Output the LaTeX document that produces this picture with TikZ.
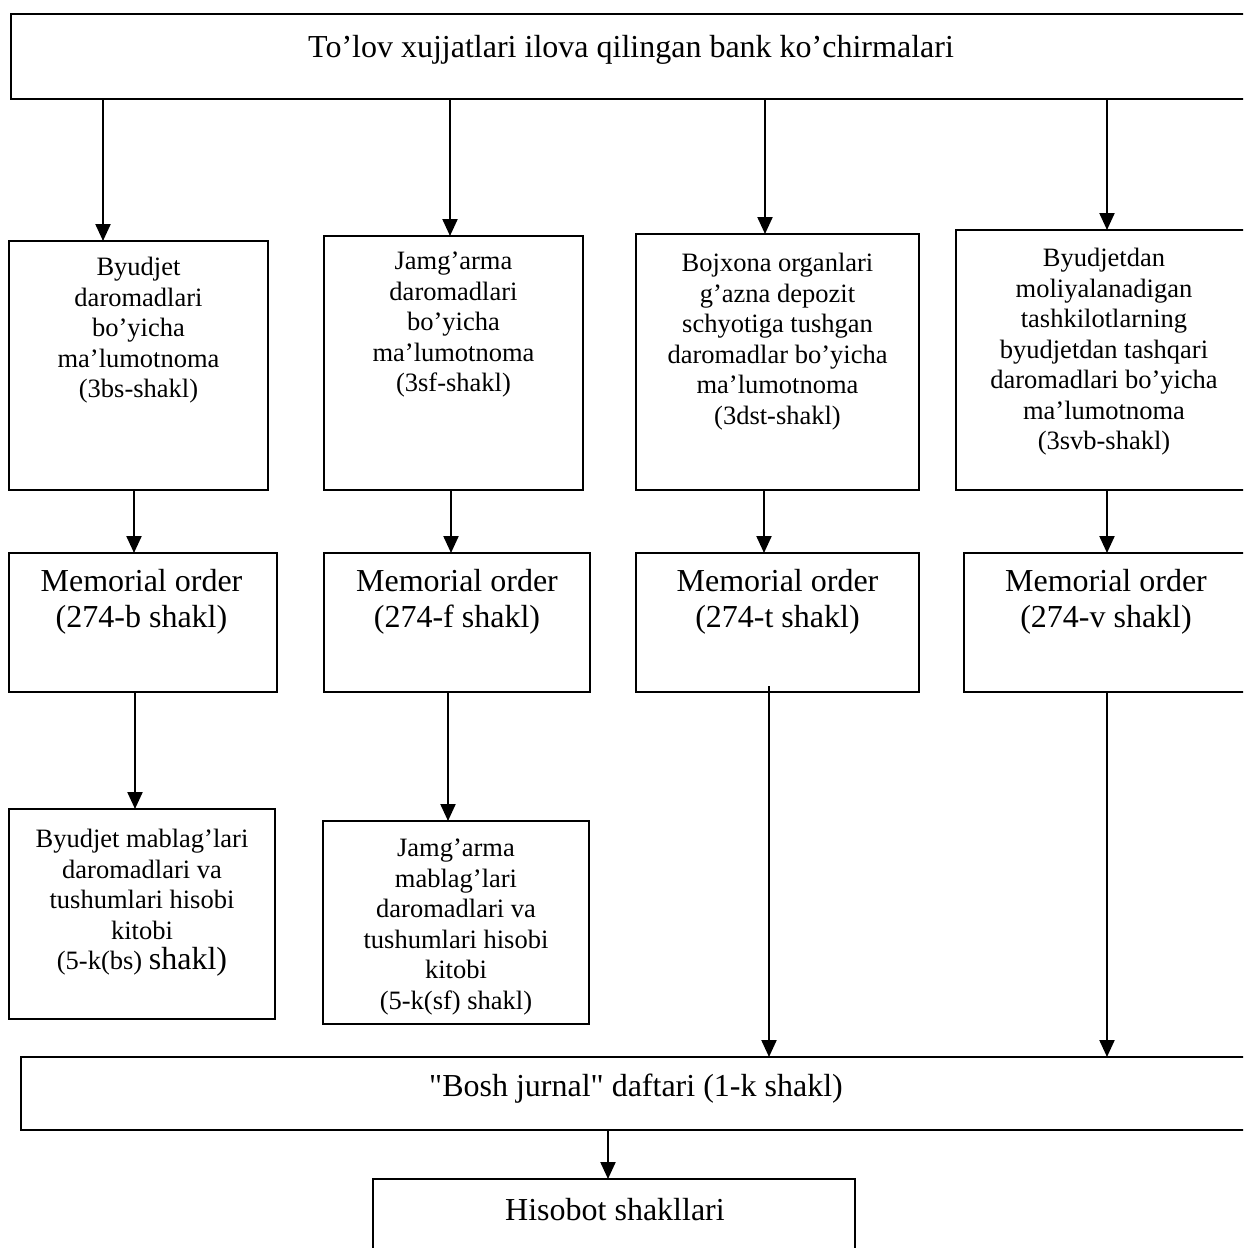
\documentclass[tikz,border=0pt]{standalone}
\usepackage{fontspec}
\setmainfont{Liberation Serif}[Ligatures=TeXOff]
\usetikzlibrary{arrows.meta,fit}
\newcommand\fsm{\fontsize{26.5}{30.5}\selectfont}
\newcommand\fbg{\fontsize{32}{36.5}\selectfont}
\begin{document}
\begin{tikzpicture}[x=1pt,y=-1pt,
  box/.style={draw, line width=1.4pt, inner sep=0pt, outer sep=0pt},
  txt/.style={align=center, inner sep=0pt, anchor=north},
  arr/.style={line width=2.2pt, -{Triangle[length=17pt,width=15pt]}}]
\useasboundingbox (0,0) rectangle (1243,1248);
\clip (0,0) rectangle (1243,1248);
% boxes
\node[box, fit={(11,14) (1251,99)}] (top) {};
\node[box, fit={(9,241) (268,490)}] (b1) {};
\node[box, fit={(324,236) (583,490)}] (b2) {};
\node[box, fit={(636,234) (919,490)}] (b3) {};
\node[box, fit={(956,230) (1252,490)}] (b4) {};
\node[box, fit={(9,553) (277,692)}] (m1) {};
\node[box, fit={(324,553) (590,692)}] (m2) {};
\node[box, fit={(636,553) (919,692)}] (m3) {};
\node[box, fit={(964,553) (1250,692)}] (m4) {};
\node[box, fit={(9,809) (275,1019)}] (n1) {};
\node[box, fit={(323,821) (589,1024)}] (n2) {};
\node[box, fit={(21,1057) (1252,1130)}] (bosh) {};
\node[box, fit={(373,1179) (855,1262)}] (his) {};
% texts
\node[txt, font=\fbg] (ttop) at (631,35) {To’lov xujjatlari ilova qilingan bank ko’chirmalari};
\node[txt, font=\fsm] (tb1) at (138.5,257) {Byudjet\\daromadlari\\bo’yicha\\ma’lumotnoma\\(3bs-shakl)};
\node[txt, font=\fsm] (tb2) at (453.5,252) {Jamg’arma\\daromadlari\\bo’yicha\\ma’lumotnoma\\(3sf-shakl)};
\node[txt, font=\fsm] (tb3) at (777.5,253) {Bojxona organlari\\g’azna depozit\\schyotiga tushgan\\daromadlar bo’yicha\\ma’lumotnoma\\(3dst-shakl)};
\node[txt, font=\fsm] (tb4) at (1104,248) {Byudjetdan\\moliyalanadigan\\tashkilotlarning\\byudjetdan tashqari\\daromadlari bo’yicha\\ma’lumotnoma\\(3svb-shakl)};
\node[txt, font=\fbg] (tm1) at (141.5,569) {Memorial order\\(274-b shakl)};
\node[txt, font=\fbg] (tm2) at (457,569) {Memorial order\\(274-f shakl)};
\node[txt, font=\fbg] (tm3) at (777.5,569) {Memorial order\\(274-t shakl)};
\node[txt, font=\fbg] (tm4) at (1106,569) {Memorial order\\(274-v shakl)};
\node[txt, font=\fsm] (tn1) at (142,829) {Byudjet mablag’lari\\daromadlari va\\tushumlari hisobi\\kitobi\\(5-k(bs) {\fbg shakl)}};
\node[txt, font=\fsm] (tn2) at (456,839) {Jamg’arma\\mablag’lari\\daromadlari va\\tushumlari hisobi\\kitobi\\(5-k(sf) shakl)};
\node[txt, font=\fbg] (tbosh) at (636,1074) {"Bosh jurnal" daftari (1-k shakl)};
\node[txt, font=\fbg] (this) at (615,1198) {Hisobot shakllari};
% connectors
\draw[arr] (top.south -| 103,0) -- (b1.north -| 103,0);
\draw[arr] (top.south -| 450,0) -- (b2.north -| 450,0);
\draw[arr] (top.south -| 765,0) -- (b3.north -| 765,0);
\draw[arr] (top.south -| 1107,0) -- (b4.north -| 1107,0);
\draw[arr] (b1.south -| 134,0) -- (m1.north -| 134,0);
\draw[arr] (b2.south -| 451,0) -- (m2.north -| 451,0);
\draw[arr] (b3.south -| 764,0) -- (m3.north -| 764,0);
\draw[arr] (b4.south -| 1107,0) -- (m4.north -| 1107,0);
\draw[arr] (m1.south -| 135,0) -- (n1.north -| 135,0);
\draw[arr] (m2.south -| 448,0) -- (n2.north -| 448,0);
\draw[arr] (m3.south -| 769,0) ++(0,-6) -- (bosh.north -| 769,0);
\draw[arr] (m4.south -| 1107,0) -- (bosh.north -| 1107,0);
\draw[arr] (bosh.south -| 608,0) -- (his.north -| 608,0);
\end{tikzpicture}
\end{document}
